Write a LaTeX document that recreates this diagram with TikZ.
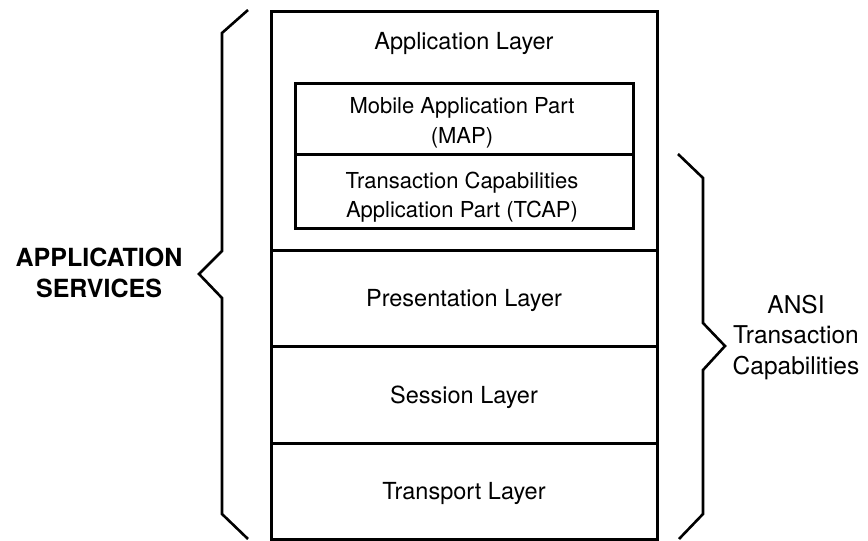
\documentclass[tikz,border=0pt]{standalone}
\usepackage{fontspec}
\setmainfont{TeX Gyre Heros}
\begin{document}
\begin{tikzpicture}[x=1pt,y=-1pt,
  brace/.style={draw=black,line width=2.6pt,line join=miter},
  rule/.style={line width=3pt},
  lbl/.style={anchor=base,inner sep=0pt,font=\fontsize{23.5}{28}\selectfont},
  small/.style={anchor=base,inner sep=0pt,font=\fontsize{22}{26}\selectfont},
  big/.style={anchor=base,inner sep=0pt,font=\fontsize{24.5}{29}\selectfont}]
\useasboundingbox (0,0) rectangle (868,541);
% main stack
\draw[rule] (271,11) rectangle (657,539);
\draw[rule] (271,250) -- (657,250);
\draw[rule] (271,346) -- (657,346);
\draw[rule] (271,443) -- (657,443);
% inner boxes
\draw[rule] (295,83) rectangle (633,228);
\draw[rule] (295,154) -- (633,154);
% labels
\node[lbl] (app) at (464,49) {Application Layer};
\node[small] (map1) at (462,113) {Mobile Application Part};
\node[small] (map2) at (462,143) {(MAP)};
\node[small] (tc1) at (462,188) {Transaction Capabilities};
\node[small] (tc2) at (462,217) {Application Part (TCAP)};
\node[lbl] (pres) at (464,306) {Presentation Layer};
\node[lbl] (sess) at (464,403) {Session Layer};
\node[lbl] (trans) at (464,499) {Transport Layer};
% left brace
\draw[brace] (248,10) -- (222,33) -- (222,251) -- (199,274) -- (222,298) -- (222,514) -- (248,539);
\node[big,font=\fontsize{25}{30}\selectfont\bfseries] (as1) at (99,266) {APPLICATION};
\node[big,font=\fontsize{25}{30}\selectfont\bfseries] (as2) at (99,297) {SERVICES};
% right brace
\draw[brace] (678,154) -- (703,178) -- (703,323) -- (725,346) -- (703,370) -- (703,514) -- (679,539);
\node[big] (ansi1) at (796,313) {ANSI};
\node[big] (ansi2) at (796,343) {Transaction};
\node[big] (ansi3) at (796,374) {Capabilities};
\end{tikzpicture}
\end{document}
